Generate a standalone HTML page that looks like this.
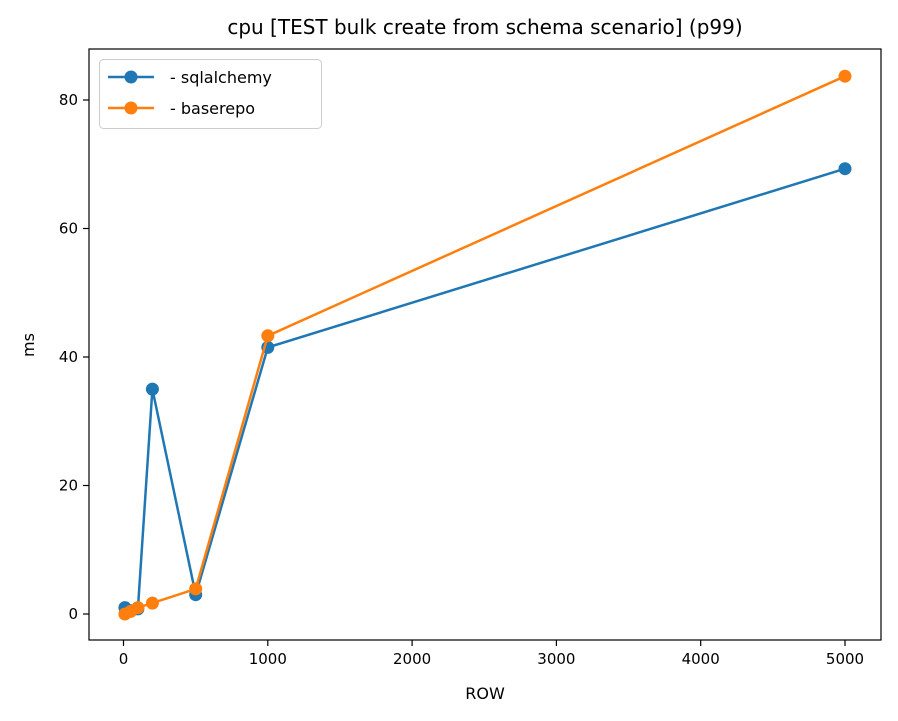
<!DOCTYPE html>
<html><head><style>body{margin:0;background:#fff}svg{display:block}text{font-family:"DejaVu Sans","Liberation Sans",sans-serif;fill:#000}</style></head><body>
<svg width="898" height="721" viewBox="0 0 898 721" xmlns="http://www.w3.org/2000/svg">
<rect width="898" height="721" fill="#fff"/>
<text x="485" y="34" font-size="20" text-anchor="middle">cpu [TEST bulk create from schema scenario] (p99)</text>
<g stroke="#000" stroke-width="1.2">
<line x1="123.5" y1="640" x2="123.5" y2="646"/><line x1="267.8" y1="640" x2="267.8" y2="646"/><line x1="412.1" y1="640" x2="412.1" y2="646"/><line x1="556.4" y1="640" x2="556.4" y2="646"/><line x1="700.7" y1="640" x2="700.7" y2="646"/><line x1="845" y1="640" x2="845" y2="646"/>
<line x1="83" y1="614" x2="89" y2="614"/><line x1="83" y1="485.5" x2="89" y2="485.5"/><line x1="83" y1="357" x2="89" y2="357"/><line x1="83" y1="228.5" x2="89" y2="228.5"/><line x1="83" y1="100" x2="89" y2="100"/>
</g>
<g font-size="15" text-anchor="middle">
<text x="123.5" y="664">0</text><text x="267.8" y="664">1000</text><text x="412.1" y="664">2000</text><text x="556.4" y="664">3000</text><text x="700.7" y="664">4000</text><text x="845" y="664">5000</text>
</g>
<g font-size="15" text-anchor="end">
<text x="78" y="619">0</text><text x="78" y="490.5">20</text><text x="78" y="362">40</text><text x="78" y="233.5">60</text><text x="78" y="105">80</text>
</g>
<text x="485" y="699" font-size="16" text-anchor="middle">ROW</text>
<text transform="translate(34,345) rotate(-90)" font-size="16" text-anchor="middle">ms</text>
<polyline fill="none" stroke="#1f77b4" stroke-width="2.5" points="124.9,607.6 130.7,610.8 137.9,608.9 152.4,389.1 195.7,594.7 267.8,347.4 845,168.7"/>
<g fill="#1f77b4"><circle cx="124.9" cy="607.6" r="6.5"/><circle cx="130.7" cy="610.8" r="6.5"/><circle cx="137.9" cy="608.9" r="6.5"/><circle cx="152.4" cy="389.1" r="6.5"/><circle cx="195.7" cy="594.7" r="6.5"/><circle cx="267.8" cy="347.4" r="6.5"/><circle cx="845" cy="168.7" r="6.5"/></g>
<polyline fill="none" stroke="#ff7f0e" stroke-width="2.5" points="124.9,614 130.7,611.4 137.9,607.6 152.4,603.1 195.7,588.9 267.8,335.8 845,76.2"/>
<g fill="#ff7f0e"><circle cx="124.9" cy="614" r="6.5"/><circle cx="130.7" cy="611.4" r="6.5"/><circle cx="137.9" cy="607.6" r="6.5"/><circle cx="152.4" cy="603.1" r="6.5"/><circle cx="195.7" cy="588.9" r="6.5"/><circle cx="267.8" cy="335.8" r="6.5"/><circle cx="845" cy="76.2" r="6.5"/></g>
<rect x="89" y="49" width="792" height="591" fill="none" stroke="#000" stroke-width="1.2"/>
<rect x="99.5" y="59.5" width="222" height="69" rx="4" fill="#fff" fill-opacity="0.8" stroke="#ccc"/>
<line x1="108" y1="77" x2="154" y2="77" stroke="#1f77b4" stroke-width="2.5"/><circle cx="131" cy="77" r="6.5" fill="#1f77b4"/>
<text x="170" y="83" font-size="16">- sqlalchemy</text>
<line x1="108" y1="108" x2="154" y2="108" stroke="#ff7f0e" stroke-width="2.5"/><circle cx="131" cy="108" r="6.5" fill="#ff7f0e"/>
<text x="170" y="114" font-size="16">- baserepo</text>
</svg>
</body></html>
